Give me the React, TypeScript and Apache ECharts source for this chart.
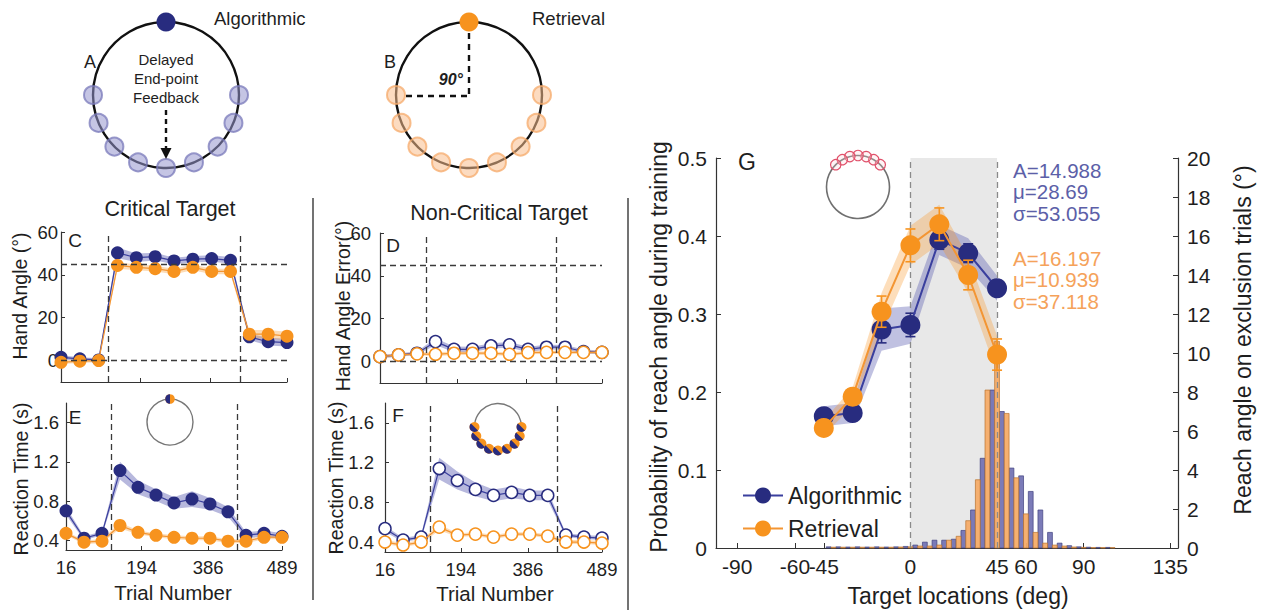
import React, { useEffect, useRef } from "react";
import * as echarts from "echarts";

const FONT = '"Liberation Sans", Arial, Helvetica, sans-serif';
const NAVY = "#282c7f";
const NAVY_LINE = "#3a3f9e";
const ORANGE = "#f7931e";
const ORANGE_LINE = "#f39533";
const NAVY_BAND = "rgba(74, 78, 170, 0.40)";
const ORANGE_BAND = "rgba(247, 147, 30, 0.32)";
const AXIS = "#333";
const TXT = "#1e1e1e";

// ---------- Panels C-F: 13 trial bins ----------
const trialBins = [0, 1, 2, 3, 4, 5, 6, 7, 8, 9, 10, 11, 12];
const trialTickAt = [0, 4.2, 7.9, 12];
const trialTickLabels = ["16", "194", "386", "489"];
const phaseEdges = [2.5, 9.5];
const handAngleTicks = [0, 20, 40, 60];
const handAngleRefs = [0, 45];
const rtTicks = [0.4, 0.8, 1.2, 1.6];

// C: hand angle, critical target
const cAlgorithmic = [1.5, 0.8, 0.3, 50.3, 48.0, 48.5, 46.5, 47.3, 47.6, 46.8, 11.1, 8.8, 8.4];
const cAlgorithmicSem = [1.0, 0.8, 0.8, 2.5, 2.0, 1.8, 1.5, 1.5, 1.5, 1.5, 1.5, 1.8, 1.8];
const cRetrieval = [-0.8, -0.3, 0.0, 44.4, 43.5, 42.9, 41.6, 43.5, 41.6, 41.6, 12.3, 12.3, 11.4];
const cRetrievalSem = [0.8, 0.8, 0.8, 1.5, 1.3, 1.3, 1.3, 1.3, 1.3, 1.3, 2.0, 2.0, 2.0];

// D: hand angle error, non-critical targets
const dAlgorithmic = [2.3, 3.1, 3.9, 9.3, 5.7, 5.7, 7.3, 7.8, 5.7, 6.7, 6.7, 4.7, 4.3];
const dAlgorithmicSem = [0.8, 0.8, 0.8, 1.6, 1.3, 1.2, 1.2, 1.3, 1.2, 1.2, 1.0, 0.9, 0.9];
const dRetrieval = [2.3, 3.1, 3.6, 3.4, 3.9, 3.9, 3.9, 3.4, 4.2, 4.3, 4.3, 4.3, 4.3];
const dRetrievalSem = [0.7, 0.7, 0.7, 0.9, 0.8, 0.8, 0.8, 0.8, 0.8, 0.8, 0.8, 0.8, 0.8];

// E: reaction time, critical target
const eAlgorithmic = [0.70, 0.42, 0.47, 1.11, 0.94, 0.86, 0.78, 0.82, 0.77, 0.69, 0.45, 0.47, 0.44];
const eAlgorithmicSem = [0.04, 0.02, 0.02, 0.09, 0.07, 0.06, 0.06, 0.08, 0.06, 0.05, 0.03, 0.03, 0.03];
const eRetrieval = [0.47, 0.38, 0.39, 0.55, 0.48, 0.45, 0.43, 0.42, 0.42, 0.39, 0.39, 0.43, 0.43];
const eRetrievalSem = [0.02, 0.02, 0.02, 0.03, 0.02, 0.02, 0.02, 0.02, 0.02, 0.02, 0.02, 0.02, 0.02];

// F: reaction time, non-critical targets
const fAlgorithmic = [0.535, 0.42, 0.45, 1.14, 1.02, 0.93, 0.87, 0.90, 0.87, 0.87, 0.47, 0.45, 0.44];
const fAlgorithmicSem = [0.03, 0.02, 0.02, 0.11, 0.09, 0.07, 0.06, 0.06, 0.05, 0.05, 0.02, 0.02, 0.02];
const fRetrieval = [0.40, 0.37, 0.40, 0.55, 0.47, 0.48, 0.45, 0.48, 0.48, 0.46, 0.40, 0.40, 0.39];
const fRetrievalSem = [0.02, 0.02, 0.02, 0.03, 0.02, 0.02, 0.02, 0.02, 0.02, 0.02, 0.02, 0.02, 0.02];

// ---------- Panel G ----------
const gTargets = [-45, -30, -15, 0, 15, 30, 45];
const gAlgorithmic = [0.169, 0.173, 0.280, 0.286, 0.395, 0.378, 0.333];
const gAlgorithmicSem = [0.008, 0.008, 0.017, 0.015, 0.012, 0.012, 0.010];
const gRetrieval = [0.154, 0.194, 0.303, 0.388, 0.415, 0.350, 0.248];
const gRetrievalSem = [0.008, 0.010, 0.020, 0.021, 0.021, 0.019, 0.020];
const gTickX = [-90, -60, -45, 0, 45, 60, 90, 135];
const gTrainingRegion = [0, 45];

const histCenters = [-41.25, -36.25, -31.25, -26.25, -21.25, -16.25, -11.25, -6.25, -1.25, 3.75, 8.75, 13.75, 18.75, 23.75, 28.75, 33.75, 38.75, 43.75, 48.75, 53.75, 58.75, 63.75, 68.75, 73.75, 78.75, 83.75, 88.75, 93.75, 98.75, 103.75];
const histAlgorithmic = [0.06, 0.06, 0.05, 0.06, 0.05, 0.06, 0.05, 0.06, 0.08, 0.15, 0.3, 0.4, 0.4, 0.45, 0.9, 1.95, 4.6, 8.1, 7.0, 4.1, 3.7, 2.9, 1.95, 0.8, 0.25, 0.12, 0.06, 0.04, 0.03, 0.03];
const histRetrieval = [0.04, 0.04, 0.04, 0.04, 0.04, 0.04, 0.04, 0.05, 0.06, 0.1, 0.1, 0.15, 0.4, 0.6, 1.4, 3.5, 8.1, 10.6, 6.9, 3.6, 1.75, 0.8, 0.25, 0.15, 0.1, 0.05, 0.03, 0.02, 0.02, 0.02];

const annAlgorithmic = ["A=14.988", "μ=28.69", "σ=53.055"];
const annRetrieval = ["A=16.197", "μ=10.939", "σ=37.118"];

// ---------- helpers ----------
const fmtTrial = (v: number) => {
  const i = trialTickAt.indexOf(v);
  return i >= 0 ? trialTickLabels[i] : "";
};

function bandSeries(name: string, xs: number[], mean: number[], sem: number[], axis: number, fill: string, z: number) {
  return {
    type: "custom",
    name,
    xAxisIndex: axis,
    yAxisIndex: axis,
    z,
    silent: true,
    data: xs.map((x, i) => [x, mean[i] - sem[i], mean[i] + sem[i]]),
    encode: { x: 0, y: [1, 2] },
    renderItem: (params: any, api: any) => {
      if (params.dataIndex !== 0) return null;
      const upper = xs.map((x, i) => api.coord([x, mean[i] + sem[i]]));
      const lower = xs.map((x, i) => api.coord([x, mean[i] - sem[i]])).reverse();
      return { type: "polygon", shape: { points: upper.concat(lower) }, style: { fill } };
    },
  };
}

function lineSeries(name: string, xs: number[], ys: number[], axis: number, color: string, lineColor: string, open: boolean, size: number, lw: number, z: number, extra: any = {}) {
  return {
    type: "line",
    name,
    xAxisIndex: axis,
    yAxisIndex: axis,
    z,
    data: xs.map((x, i) => [x, ys[i]]),
    symbol: "circle",
    symbolSize: size,
    itemStyle: open
      ? { color: "#ffffff", borderColor: color, borderWidth: 1.5 }
      : { color, borderColor: color, borderWidth: 0 },
    lineStyle: { color: lineColor, width: lw },
    emphasis: { disabled: true },
    ...extra,
  };
}

function errorBarSeries(name: string, xs: number[], mean: number[], sem: number[], axis: number, color: string, z: number) {
  return {
    type: "custom",
    name,
    xAxisIndex: axis,
    yAxisIndex: axis,
    z,
    silent: true,
    data: xs.map((x, i) => [x, mean[i] - sem[i], mean[i] + sem[i]]),
    encode: { x: 0, y: [1, 2] },
    renderItem: (params: any, api: any) => {
      const x = api.value(0);
      const lo = api.coord([x, api.value(1)]);
      const hi = api.coord([x, api.value(2)]);
      const w = 5;
      const st = { stroke: color, lineWidth: 1.6 };
      return {
        type: "group",
        children: [
          { type: "line", shape: { x1: lo[0], y1: lo[1], x2: hi[0], y2: hi[1] }, style: st },
          { type: "line", shape: { x1: hi[0] - w, y1: hi[1], x2: hi[0] + w, y2: hi[1] }, style: st },
          { type: "line", shape: { x1: lo[0] - w, y1: lo[1], x2: lo[0] + w, y2: lo[1] }, style: st },
        ],
      };
    },
  };
}

function histSeries(name: string, centers: number[], heights: number[], side: number, fill: string, stroke: string) {
  return {
    type: "custom",
    name,
    xAxisIndex: 4,
    yAxisIndex: 5,
    z: 2,
    silent: true,
    data: centers.map((c, i) => [c, heights[i]]),
    encode: { x: 0, y: 1 },
    renderItem: (params: any, api: any) => {
      const c = api.value(0);
      const h = api.value(1);
      const a = api.coord([side < 0 ? c - 2.5 : c, h]);
      const b = api.coord([side < 0 ? c : c + 2.5, 0]);
      return {
        type: "rect",
        shape: { x: a[0], y: a[1], width: b[0] - a[0], height: b[1] - a[1] },
        style: { fill, stroke, lineWidth: 0.7 },
      };
    },
  };
}

const dashed = { type: [6, 4], color: "#3a3a3a", width: 1.3 };

function trialMarkLines(refs: number[]) {
  return {
    markLine: {
      silent: true,
      symbol: ["none", "none"],
      label: { show: false },
      lineStyle: dashed,
      emphasis: { disabled: true },
      data: [
        ...phaseEdges.map((x) => ({ xAxis: x })),
        ...refs.map((y) => ({ yAxis: y })),
      ],
    },
  };
}

const axisLine = { show: true, onZero: false, lineStyle: { color: AXIS, width: 1.2 } };
const TICK_FS = 18.5;

function trialXAxis(gi: number, labels: boolean) {
  return {
    type: "value",
    gridIndex: gi,
    min: 0,
    max: 12,
    axisLine,
    axisTick: { show: true, inside: true, length: 4, customValues: trialTickAt, lineStyle: { color: AXIS } },
    axisLabel: { show: labels, customValues: trialTickAt, formatter: fmtTrial, fontSize: TICK_FS, fontFamily: FONT, color: TXT, margin: 8 },
    splitLine: { show: false },
  };
}

function yAxisCfg(gi: number, min: number, max: number, ticks: number[], margin: number, fmt?: any) {
  return {
    type: "value",
    gridIndex: gi,
    min,
    max,
    axisLine,
    axisTick: { show: true, inside: true, length: 4, customValues: ticks, lineStyle: { color: AXIS } },
    axisLabel: { customValues: ticks, fontSize: TICK_FS, fontFamily: FONT, color: TXT, margin, formatter: fmt },
    splitLine: { show: false },
  };
}

function txt(text: string, x: number, y: number, size: number, opts: any = {}) {
  const { rotation, align, fill, weight, italic } = opts;
  return {
    type: "text",
    x,
    y,
    rotation: rotation || 0,
    silent: true,
    z: 50,
    style: {
      text,
      fill: fill || TXT,
      fontSize: size,
      fontFamily: FONT,
      fontWeight: weight || "normal",
      fontStyle: italic ? "italic" : "normal",
      align: align || "center",
      verticalAlign: "middle",
    },
  };
}

function ringDiagram(cx: number, cy: number, r: number, dotFill: string, dotStroke: string, topColor: string) {
  const els: any[] = [
    { type: "circle", shape: { cx, cy, r }, style: { fill: "none", stroke: "#111", lineWidth: 2.4 }, z: 40 },
  ];
  const angles = [0, 22.5, 45, 67.5, 90, 112.5, 135, 157.5, 180];
  angles.forEach((a) => {
    const t = (a * Math.PI) / 180;
    els.push({
      type: "circle",
      shape: { cx: cx + r * Math.cos(t), cy: cy + r * Math.sin(t), r: 9 },
      style: { fill: dotFill, stroke: dotStroke, lineWidth: 2 },
      z: 41,
    });
  });
  els.push({ type: "circle", shape: { cx, cy: cy - r, r: 9.5 }, style: { fill: topColor }, z: 42 });
  return els;
}

function splitDot(cx: number, cy: number, r: number, start: number, z = 45) {
  return [
    { type: "circle", shape: { cx, cy, r }, style: { fill: ORANGE }, z },
    { type: "sector", shape: { cx, cy, r0: 0, r, startAngle: start, endAngle: start + Math.PI, clockwise: true }, style: { fill: NAVY }, z: z + 1 },
  ];
}

function buildGraphic() {
  const g: any[] = [];
  // Panel A
  const A = { cx: 166, cy: 95, r: 73 };
  g.push(...ringDiagram(A.cx, A.cy, A.r, "rgba(150,150,205,0.55)", "rgba(120,120,185,0.75)", NAVY));
  g.push(txt("A", 90, 62, 18));
  g.push(txt("Algorithmic", 214, 18, 18.5, { align: "left" }));
  g.push(txt("Delayed", A.cx, 59, 15));
  g.push(txt("End-point", A.cx, 78, 15));
  g.push(txt("Feedback", A.cx, 97, 15));
  g.push({ type: "line", shape: { x1: A.cx, y1: 110, x2: A.cx, y2: 150 }, style: { stroke: "#111", lineWidth: 2.4, lineDash: [5, 4] }, z: 43 });
  g.push({ type: "polygon", shape: { points: [[A.cx - 5.5, 148], [A.cx + 5.5, 148], [A.cx, 159]] }, style: { fill: "#111" }, z: 43 });
  // Panel B
  const B = { cx: 469, cy: 95, r: 73 };
  g.push(...ringDiagram(B.cx, B.cy, B.r, "rgba(250,190,140,0.55)", "rgba(245,170,105,0.75)", ORANGE));
  g.push(txt("B", 390, 62, 18));
  g.push(txt("Retrieval", 532, 18, 18.5, { align: "left" }));
  g.push({ type: "line", shape: { x1: B.cx, y1: 33, x2: B.cx, y2: 96 }, style: { stroke: "#111", lineWidth: 2.4, lineDash: [6, 5] }, z: 43 });
  g.push({ type: "line", shape: { x1: 406, y1: 96, x2: B.cx, y2: 96 }, style: { stroke: "#111", lineWidth: 2.4, lineDash: [6, 5] }, z: 43 });
  g.push(txt("90°", 463, 79, 16, { align: "right", weight: "bold", italic: true }));

  // separators
  g.push({ type: "line", shape: { x1: 313, y1: 198, x2: 313, y2: 600 }, style: { stroke: "#444", lineWidth: 1.5 }, z: 10 });
  g.push({ type: "line", shape: { x1: 628, y1: 198, x2: 628, y2: 610 }, style: { stroke: "#444", lineWidth: 1.5 }, z: 10 });

  // titles
  g.push(txt("Critical Target", 170, 209, 21.5));
  g.push(txt("Non-Critical Target", 499, 213, 21.5));
  // axis names
  g.push(txt("Hand Angle (°)", 20, 296, 19.5, { rotation: Math.PI / 2 }));
  g.push(txt("Reaction Time (s)", 21, 479, 19.5, { rotation: Math.PI / 2 }));
  g.push(txt("Hand Angle Error(°)", 343, 306, 19.5, { rotation: Math.PI / 2 }));
  g.push(txt("Reaction Time (s)", 336, 478, 19.5, { rotation: Math.PI / 2 }));
  g.push(txt("Trial Number", 173, 592, 20.5));
  g.push(txt("Trial Number", 495, 593, 20.5));
  // panel letters
  g.push(txt("C", 75, 240, 19));
  g.push(txt("E", 75, 417, 19));
  g.push(txt("D", 393, 245, 19));
  g.push(txt("F", 398, 415, 19));
  g.push(txt("G", 747, 162, 23));

  // E inset
  g.push({ type: "circle", shape: { cx: 170, cy: 422, r: 23 }, style: { fill: "none", stroke: "#777", lineWidth: 1.4 }, z: 44 });
  g.push(...splitDot(170, 399, 4.8, Math.PI / 2));
  // F inset
  const F = { cx: 498, cy: 427, r: 23.5 };
  g.push({ type: "circle", shape: { cx: F.cx, cy: F.cy, r: F.r }, style: { fill: "none", stroke: "#777", lineWidth: 1.4 }, z: 44 });
  [0, 22.5, 45, 67.5, 90, 112.5, 135, 157.5, 180].forEach((a) => {
    const t = (a * Math.PI) / 180;
    g.push(...splitDot(F.cx + F.r * Math.cos(t), F.cy + F.r * Math.sin(t), 5, Math.PI / 4));
  });
  // G inset
  const Gi = { cx: 858, cy: 187, r: 31.5 };
  g.push({ type: "circle", shape: { cx: Gi.cx, cy: Gi.cy, r: Gi.r }, style: { fill: "none", stroke: "#707070", lineWidth: 1.6 }, z: 44 });
  [45, 60, 75, 90, 105, 120, 135].forEach((a) => {
    const t = (a * Math.PI) / 180;
    g.push({ type: "circle", shape: { cx: Gi.cx + Gi.r * Math.cos(t), cy: Gi.cy - Gi.r * Math.sin(t), r: 5.2 }, style: { fill: "rgba(255,210,215,0.25)", stroke: "#e0506a", lineWidth: 1.2 }, z: 45 });
  });

  // G axis titles
  g.push(txt("Probability of reach angle during training", 659, 347, 23, { rotation: Math.PI / 2 }));
  g.push(txt("Reach angle on exclusion trials (°)", 1243, 340, 23, { rotation: Math.PI / 2 }));
  g.push(txt("Target locations (deg)", 958, 596, 23));

  // G annotations
  const ys1 = [170, 191.5, 213];
  annAlgorithmic.forEach((s, i) => g.push(txt(s, 1013, ys1[i], 20.5, { align: "left", fill: "#5c5fa8" })));
  const ys2 = [258, 279.5, 301];
  annRetrieval.forEach((s, i) => g.push(txt(s, 1013, ys2[i], 20.5, { align: "left", fill: "#f5a25a" })));
  return g;
}

function buildOption() {
  const gX = {
    type: "value",
    gridIndex: 4,
    min: -101,
    max: 139,
    axisLine,
    axisTick: { show: true, inside: true, length: 5, customValues: gTickX, lineStyle: { color: AXIS } },
    axisLabel: { customValues: gTickX, fontSize: 21, fontFamily: FONT, color: TXT, margin: 8 },
    splitLine: { show: false },
  };
  const gYLeft = {
    type: "value",
    gridIndex: 4,
    min: 0,
    max: 0.5,
    interval: 0.1,
    axisLine,
    axisTick: { show: true, inside: true, length: 5, lineStyle: { color: AXIS } },
    axisLabel: { fontSize: 21, fontFamily: FONT, color: TXT, margin: 9, formatter: (v: number) => (v === 0 ? "0" : v.toFixed(1)) },
    splitLine: { show: false },
  };
  const gYRight = {
    type: "value",
    gridIndex: 4,
    position: "right",
    min: 0,
    max: 20,
    interval: 2,
    axisLine,
    axisTick: { show: true, inside: true, length: 5, lineStyle: { color: AXIS } },
    axisLabel: { fontSize: 21, fontFamily: FONT, color: TXT, margin: 9 },
    splitLine: { show: false },
  };

  const rtFmt = (v: number) => v.toFixed(1);

  const series: any[] = [
    // C
    bandSeries("C-alg-band", trialBins, cAlgorithmic, cAlgorithmicSem, 0, NAVY_BAND, 2),
    bandSeries("C-ret-band", trialBins, cRetrieval, cRetrievalSem, 0, ORANGE_BAND, 2),
    lineSeries("C-alg", trialBins, cAlgorithmic, 0, NAVY, NAVY_LINE, false, 13, 1.2, 3, trialMarkLines(handAngleRefs)),
    lineSeries("C-ret", trialBins, cRetrieval, 0, ORANGE, ORANGE_LINE, false, 13, 1.2, 4),
    // E
    bandSeries("E-alg-band", trialBins, eAlgorithmic, eAlgorithmicSem, 1, NAVY_BAND, 2),
    bandSeries("E-ret-band", trialBins, eRetrieval, eRetrievalSem, 1, ORANGE_BAND, 2),
    lineSeries("E-alg", trialBins, eAlgorithmic, 1, NAVY, NAVY_LINE, false, 13, 1.2, 3, trialMarkLines([])),
    lineSeries("E-ret", trialBins, eRetrieval, 1, ORANGE, ORANGE_LINE, false, 13, 1.2, 4),
    // D
    bandSeries("D-alg-band", trialBins, dAlgorithmic, dAlgorithmicSem, 2, NAVY_BAND, 2),
    bandSeries("D-ret-band", trialBins, dRetrieval, dRetrievalSem, 2, ORANGE_BAND, 2),
    lineSeries("D-alg", trialBins, dAlgorithmic, 2, NAVY, NAVY_LINE, true, 12, 1.2, 3, trialMarkLines(handAngleRefs)),
    lineSeries("D-ret", trialBins, dRetrieval, 2, ORANGE, ORANGE_LINE, true, 12, 1.2, 4),
    // F
    bandSeries("F-alg-band", trialBins, fAlgorithmic, fAlgorithmicSem, 3, NAVY_BAND, 2),
    bandSeries("F-ret-band", trialBins, fRetrieval, fRetrievalSem, 3, ORANGE_BAND, 2),
    lineSeries("F-alg", trialBins, fAlgorithmic, 3, NAVY, NAVY_LINE, true, 12, 1.2, 3, trialMarkLines([])),
    lineSeries("F-ret", trialBins, fRetrieval, 3, ORANGE, ORANGE_LINE, true, 12, 1.2, 4),
    // G background region
    {
      type: "line",
      name: "G-region",
      xAxisIndex: 4,
      yAxisIndex: 4,
      data: [],
      z: 0,
      markArea: {
        silent: true,
        itemStyle: { color: "#e8e8e8" },
        data: [[{ xAxis: gTrainingRegion[0] }, { xAxis: gTrainingRegion[1] }]],
      },
    },
    histSeries("Hist-alg", histCenters, histAlgorithmic, -1, "rgba(112,112,178,0.92)", "#41427f"),
    histSeries("Hist-ret", histCenters, histRetrieval, 1, "rgba(246,172,104,0.95)", "#b8722f"),
    {
      type: "line",
      name: "G-edges",
      xAxisIndex: 4,
      yAxisIndex: 4,
      data: [],
      z: 3,
      markLine: {
        silent: true,
        symbol: ["none", "none"],
        label: { show: false },
        lineStyle: { type: [6, 4], color: "#8a8a8a", width: 1.3 },
        data: gTrainingRegion.map((x) => ({ xAxis: x })),
      },
    },
    bandSeries("G-alg-band", gTargets, gAlgorithmic, gAlgorithmicSem.map((s) => s * 1.6), 4, "rgba(74,78,170,0.35)", 4),
    bandSeries("G-ret-band", gTargets, gRetrieval, gRetrievalSem.map((s) => s * 1.2), 4, "rgba(247,147,30,0.30)", 4),
    errorBarSeries("G-alg-err", gTargets, gAlgorithmic, gAlgorithmicSem, 4, NAVY, 5),
    lineSeries("Algorithmic", gTargets, gAlgorithmic, 4, NAVY, NAVY_LINE, false, 20, 2, 6),
    errorBarSeries("G-ret-err", gTargets, gRetrieval, gRetrievalSem, 4, ORANGE, 7),
    lineSeries("Retrieval", gTargets, gRetrieval, 4, ORANGE, ORANGE_LINE, false, 20, 2, 8),
  ];

  return {
    animation: false,
    backgroundColor: "#ffffff",
    textStyle: { fontFamily: FONT },
    grid: [
      { left: 61, top: 232, width: 226, height: 150 },
      { left: 66, top: 403, width: 216, height: 147 },
      { left: 380, top: 233, width: 222, height: 150 },
      { left: 385, top: 403, width: 217, height: 149 },
      { left: 716, top: 158, width: 462, height: 390 },
    ],
    xAxis: [trialXAxis(0, false), trialXAxis(1, true), trialXAxis(2, false), trialXAxis(3, true), gX],
    yAxis: [
      yAxisCfg(0, -10, 60, handAngleTicks, 3),
      yAxisCfg(1, 0.3, 1.8, rtTicks, 7, rtFmt),
      yAxisCfg(2, -10, 60, handAngleTicks, 9),
      yAxisCfg(3, 0.3, 1.8, rtTicks, 11, rtFmt),
      gYLeft,
      gYRight,
    ],
    legend: {
      data: ["Algorithmic", "Retrieval"],
      orient: "vertical",
      left: 737,
      top: 479,
      itemWidth: 40,
      itemHeight: 20,
      itemGap: 10,
      selectedMode: false,
      textStyle: { fontSize: 23, fontFamily: FONT, color: TXT },
    },
    graphic: buildGraphic(),
    series,
  };
}

export default function App() {
  const ref = useRef<HTMLDivElement>(null);
  useEffect(() => {
    if (!ref.current) return;
    const chart = echarts.init(ref.current, undefined, { renderer: "svg" });
    chart.setOption(buildOption() as any);
    return () => chart.dispose();
  }, []);
  return (
    <div
      ref={ref}
      style={{ position: "absolute", left: 0, top: 0, width: 1267, height: 612, background: "#fff" }}
    />
  );
}
